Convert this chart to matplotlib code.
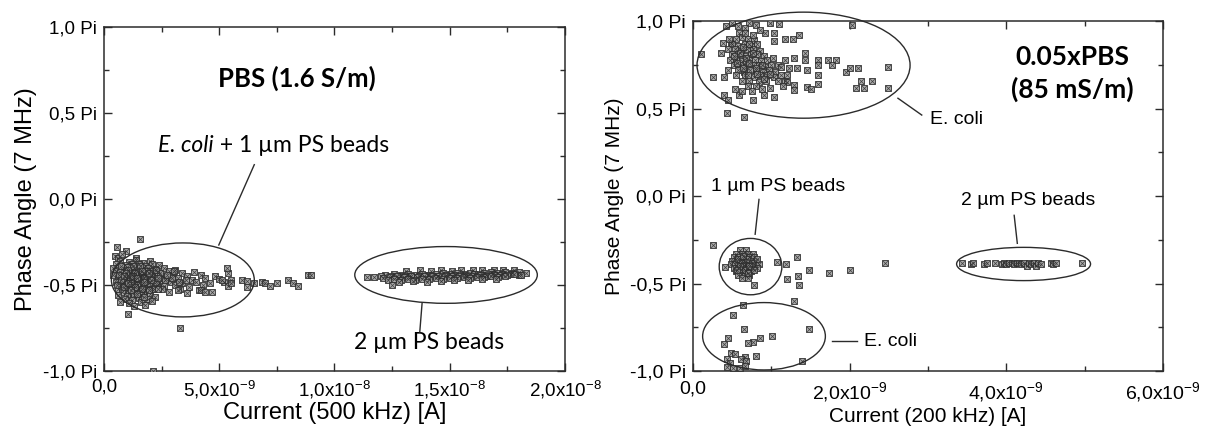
import numpy as np
import matplotlib
matplotlib.use("Agg")
import matplotlib.pyplot as plt
from matplotlib.patches import Ellipse
from matplotlib.ticker import FixedLocator, MultipleLocator

plt.rcParams['font.family'] = ['Liberation Sans', 'DejaVu Sans']
plt.rcParams['mathtext.fontset'] = 'custom'
plt.rcParams['mathtext.rm'] = 'Liberation Sans'

# ---- data: current in nA, phase angle in units of Pi ----
# left panel, PBS (1.6 S/m)
ecoli_pbs = [
    (1.58, -0.23), (0.57, -0.28), (0.97, -0.30), (0.49, -0.33), (0.61, -0.34), (1.40, -0.34), (0.80, -0.32),
    (0.7, -0.36), (1.1, -0.365), (1.4, -0.355), (1.7, -0.37), (2.0, -0.36),
    (0.5, -0.38), (0.9, -0.385), (1.2, -0.375), (1.5, -0.38), (1.8, -0.39), (2.1, -0.38), (2.4, -0.385),
    (0.4, -0.40), (0.8, -0.405), (1.0, -0.395), (1.3, -0.40), (1.6, -0.41), (1.9, -0.40), (2.2, -0.405),
    (2.6, -0.40), (3.1, -0.41),
    (0.5, -0.42), (0.7, -0.425), (1.1, -0.42), (1.4, -0.415), (1.7, -0.43), (2.0, -0.42), (2.3, -0.425),
    (2.8, -0.42), (3.4, -0.43), (3.9, -0.425),
    (0.4, -0.44), (0.9, -0.445), (1.2, -0.44), (1.5, -0.435), (1.8, -0.45), (2.1, -0.44), (2.5, -0.445),
    (3.0, -0.44), (3.6, -0.45), (4.2, -0.44), (4.8, -0.445),
    (0.6, -0.46), (1.0, -0.465), (1.3, -0.455), (1.6, -0.46), (1.9, -0.47), (2.2, -0.46), (2.7, -0.465),
    (3.2, -0.46), (3.8, -0.47), (4.4, -0.46), (5.0, -0.465), (5.5, -0.47),
    (0.5, -0.48), (0.8, -0.485), (1.1, -0.475), (1.4, -0.48), (1.7, -0.49), (2.0, -0.48), (2.4, -0.485),
    (2.9, -0.48), (3.4, -0.49), (4.0, -0.48), (4.6, -0.485), (5.2, -0.48),
    (0.7, -0.50), (1.0, -0.505), (1.3, -0.495), (1.6, -0.50), (1.9, -0.51), (2.3, -0.50), (2.6, -0.505),
    (3.1, -0.50), (3.7, -0.51), (4.3, -0.50), (5.4, -0.505),
    (0.6, -0.52), (0.9, -0.525), (1.2, -0.515), (1.5, -0.52), (1.8, -0.53), (2.1, -0.52), (2.5, -0.525),
    (3.3, -0.52), (4.1, -0.53),
    (0.8, -0.54), (1.1, -0.545), (1.4, -0.535), (1.7, -0.54), (2.0, -0.55), (2.8, -0.54), (3.6, -0.545),
    (0.6, -0.56), (1.0, -0.565), (1.3, -0.555), (1.6, -0.56), (2.2, -0.57),
    (0.9, -0.58), (1.2, -0.585), (1.5, -0.575), (1.9, -0.58),
    (0.7, -0.60), (1.1, -0.605), (1.6, -0.60), (2.1, -0.595),
    (1.3, -0.62), (1.8, -0.615),
    (1.25, -0.43), (1.55, -0.45), (1.35, -0.47), (1.65, -0.44), (1.45, -0.50), (1.75, -0.46),
    (1.15, -0.49), (1.85, -0.42), (1.05, -0.44), (2.05, -0.45), (1.95, -0.49), (1.25, -0.39),
    (1.55, -0.39), (0.95, -0.47), (2.25, -0.48), (2.45, -0.43), (2.15, -0.52), (0.85, -0.51),
    (0.75, -0.39), (1.05, -0.41), (1.35, -0.43), (1.65, -0.42), (1.95, -0.43), (2.25, -0.41),
    (0.65, -0.44), (0.95, -0.43), (1.25, -0.45), (1.45, -0.46), (1.75, -0.48), (2.05, -0.47),
    (2.35, -0.46), (0.75, -0.47), (1.05, -0.49), (1.35, -0.51), (1.65, -0.52), (1.95, -0.53),
    (2.35, -0.52), (0.55, -0.50), (0.85, -0.45), (1.15, -0.53), (1.45, -0.55), (1.75, -0.57),
    (2.65, -0.47), (2.95, -0.46), (3.25, -0.48), (3.55, -0.47), (2.75, -0.44), (3.05, -0.42),
    (3.2, -0.53), (4.2, -0.53), (4.4, -0.54), (4.7, -0.54), (5.1, -0.47), (5.4, -0.43), (5.5, -0.49),
    (1.04, -0.67), (3.31, -0.75), (2.11, -1.0),
    (5.35, -0.40), (6.0, -0.468), (6.2, -0.478), (6.2, -0.51), (6.5, -0.488), (6.85, -0.48),
    (7.0, -0.488), (7.2, -0.507), (7.5, -0.488), (8.0, -0.468), (8.2, -0.488), (8.4, -0.507),
    (8.85, -0.443), (9.0, -0.443),
]
beads2_pbs = [
    (13.1, -0.42), (13.7, -0.415), (14.2, -0.42), (14.6, -0.415), (15.1, -0.42), (15.5, -0.415),
    (16.0, -0.41), (16.4, -0.415), (16.9, -0.41), (17.3, -0.415), (17.8, -0.41),
    (12.2, -0.44), (12.6, -0.435), (12.9, -0.44), (13.2, -0.435), (13.5, -0.44), (13.8, -0.435),
    (14.1, -0.44), (14.4, -0.435), (14.7, -0.43), (15.0, -0.435), (15.3, -0.43), (15.6, -0.435),
    (15.9, -0.43), (16.2, -0.435), (16.5, -0.43), (16.8, -0.425), (17.1, -0.43), (17.4, -0.425),
    (17.7, -0.43), (18.0, -0.425), (18.3, -0.43),
    (12.0, -0.445), (12.45, -0.445), (12.85, -0.45), (13.25, -0.445), (13.65, -0.445), (14.05, -0.44),
    (14.45, -0.445), (14.85, -0.44), (15.25, -0.44), (15.65, -0.44), (16.05, -0.435), (16.45, -0.44),
    (16.85, -0.435), (17.25, -0.435), (17.65, -0.435), (18.0, -0.44),
    (11.4, -0.455), (11.7, -0.455), (12.1, -0.46), (12.4, -0.455), (12.7, -0.45), (13.0, -0.455),
    (13.3, -0.45), (13.6, -0.455), (13.9, -0.45), (14.2, -0.45), (14.5, -0.445), (14.8, -0.45),
    (15.1, -0.445), (15.4, -0.45), (15.7, -0.445), (16.0, -0.445), (16.3, -0.44), (16.6, -0.445),
    (16.9, -0.44), (17.2, -0.44), (17.5, -0.44), (17.8, -0.435), (18.1, -0.44),
    (12.3, -0.47), (12.6, -0.465), (12.9, -0.47), (13.2, -0.465), (13.5, -0.47), (13.8, -0.465),
    (14.1, -0.465), (14.4, -0.46), (14.7, -0.465), (15.0, -0.46), (15.3, -0.46), (15.6, -0.455),
    (15.9, -0.46), (16.2, -0.455), (16.5, -0.455), (16.8, -0.45), (17.1, -0.455), (17.4, -0.45),
    (12.8, -0.48), (13.4, -0.475), (14.0, -0.48), (14.6, -0.475), (15.2, -0.47), (15.8, -0.47),
    (16.4, -0.465), (17.0, -0.465),
    (12.5, -0.50),
]

# right panel, 0.05xPBS (85 mS/m)
ecoli_top = [
    (0.10, 0.81), (0.25, 0.68), (0.40, 0.68), (0.40, 0.58), (0.44, 0.475), (0.45, 0.55), (0.65, 0.45),
    (0.53, 0.61), (0.38, 0.875), (0.48, 0.875), (0.36, 0.82), (0.59, 0.93), (0.71, 0.99), (0.98, 0.99),
    (1.10, 0.985), (0.92, 0.93), (1.04, 0.93), (1.17, 0.90), (1.27, 0.90), (1.35, 0.92), (1.04, 0.885),
    (2.03, 0.98), (1.43, 0.82), (1.43, 0.78), (1.60, 0.78), (1.60, 0.75), (1.72, 0.78), (1.83, 0.78),
    (1.78, 0.75), (1.60, 0.69), (1.60, 0.64), (1.46, 0.72), (1.46, 0.625), (1.50, 0.61), (1.95, 0.71),
    (2.01, 0.73), (2.10, 0.73), (2.14, 0.66), (2.08, 0.615), (2.18, 0.615), (2.29, 0.66), (2.49, 0.735),
    (2.49, 0.62), (1.29, 0.79), (1.33, 0.73), (1.23, 0.73), (1.17, 0.78), (1.17, 0.66), (1.29, 0.635),
    (1.29, 0.605), (1.04, 0.565), (0.90, 0.58), (0.76, 0.55), (0.59, 0.58), (1.08, 0.75), (1.02, 0.79),
    (0.42, 0.97), (0.50, 0.99), (0.58, 0.97), (0.66, 0.96), (0.80, 0.98), (0.86, 0.95),
    (0.55, 0.90), (0.62, 0.91), (0.70, 0.90), (0.78, 0.89),
    (0.50, 0.87), (0.58, 0.86), (0.66, 0.87), (0.74, 0.86), (0.82, 0.87),
    (0.45, 0.84), (0.53, 0.84), (0.61, 0.83), (0.69, 0.84), (0.77, 0.84), (0.85, 0.83),
    (0.50, 0.81), (0.58, 0.81), (0.66, 0.80), (0.74, 0.81), (0.82, 0.81), (0.90, 0.80),
    (0.47, 0.78), (0.55, 0.78), (0.63, 0.77), (0.71, 0.78), (0.79, 0.78), (0.87, 0.77), (0.95, 0.78),
    (0.52, 0.75), (0.60, 0.75), (0.68, 0.74), (0.76, 0.75), (0.84, 0.75), (0.92, 0.74), (1.00, 0.75),
    (0.45, 0.72), (0.57, 0.72), (0.65, 0.71), (0.73, 0.72), (0.81, 0.72), (0.89, 0.71), (0.97, 0.72),
    (1.05, 0.71),
    (0.55, 0.69), (0.66, 0.69), (0.78, 0.68), (0.86, 0.69), (0.95, 0.69), (1.03, 0.68), (1.12, 0.69),
    (0.63, 0.66), (0.72, 0.66), (0.84, 0.65), (0.93, 0.66), (1.08, 0.66), (1.20, 0.65),
    (0.70, 0.63), (0.80, 0.63), (0.98, 0.62), (1.15, 0.63),
    (0.62, 0.60), (0.75, 0.60), (0.88, 0.61),
    (0.52, 0.80), (0.60, 0.82), (0.68, 0.79), (0.76, 0.82), (0.64, 0.85), (0.72, 0.87), (0.56, 0.76),
    (0.64, 0.73), (0.72, 0.76), (0.80, 0.73), (0.88, 0.75), (0.70, 0.69), (0.82, 0.70), (0.90, 0.67),
    (0.98, 0.70), (0.46, 0.90), (0.66, 0.93), (0.76, 0.92), (1.12, 0.74), (1.20, 0.69),
]
beads1 = [
    (0.26, -0.278), (1.19, -0.388), (1.20, -0.473), (1.33, -0.347), (1.34, -0.458), (1.35, -0.508),
    (1.48, -0.420), (1.74, -0.439), (2.01, -0.420), (2.45, -0.384), (1.29, -0.597), (0.78, -0.508),
    (0.41, -0.407), (1.07, -0.379),
    (0.60, -0.31), (0.68, -0.31),
    (0.55, -0.33), (0.63, -0.33), (0.70, -0.33), (0.76, -0.33),
    (0.52, -0.35), (0.58, -0.35), (0.65, -0.35), (0.72, -0.35), (0.78, -0.35),
    (0.50, -0.37), (0.56, -0.37), (0.62, -0.37), (0.68, -0.37), (0.74, -0.37), (0.80, -0.37),
    (0.48, -0.39), (0.54, -0.39), (0.60, -0.39), (0.66, -0.39), (0.72, -0.39), (0.78, -0.39), (0.84, -0.39),
    (0.52, -0.41), (0.58, -0.41), (0.64, -0.41), (0.70, -0.41), (0.76, -0.41), (0.82, -0.41),
    (0.55, -0.43), (0.62, -0.43), (0.68, -0.43), (0.74, -0.43),
    (0.58, -0.45), (0.66, -0.45), (0.72, -0.45),
    (0.63, -0.47), (0.70, -0.47),
    (0.57, -0.36), (0.63, -0.38), (0.69, -0.36), (0.75, -0.38), (0.60, -0.40), (0.66, -0.42),
    (0.72, -0.40), (0.78, -0.42), (0.64, -0.34), (0.70, -0.44), (0.56, -0.42), (0.82, -0.36),
]
ecoli_bottom = [
    (0.64, -0.625), (0.51, -0.677), (0.65, -0.762), (1.01, -0.80), (1.48, -0.757), (0.85, -0.81),
    (0.77, -0.835), (0.70, -0.842), (0.45, -0.81), (0.40, -0.848), (0.49, -0.895), (0.54, -0.905),
    (0.81, -0.914), (0.66, -0.92), (0.61, -0.933), (0.67, -0.943), (0.43, -0.933), (0.47, -0.952),
    (1.39, -0.943), (0.44, -0.975), (0.51, -0.981), (0.60, -0.981), (0.66, -0.97),
]
beads2 = [
    (3.44, -0.385), (3.55, -0.39), (3.58, -0.385), (3.72, -0.39), (3.75, -0.385), (3.85, -0.385),
    (3.95, -0.39), (3.97, -0.38), (4.00, -0.39), (4.03, -0.385), (4.07, -0.38), (4.10, -0.39),
    (4.13, -0.385), (4.16, -0.38), (4.19, -0.39), (4.23, -0.385), (4.26, -0.40), (4.29, -0.385),
    (4.32, -0.39), (4.35, -0.385), (4.38, -0.40), (4.41, -0.385), (4.44, -0.39), (4.57, -0.385),
    (4.60, -0.39), (4.63, -0.385), (4.96, -0.385),
]

pi_ticks = [-1.0, -0.5, 0.0, 0.5, 1.0]
pi_labels = ['-1,0 Pi', '-0,5 Pi', '0,0 Pi', '0,5 Pi', '1,0 Pi']
left_xticks = [0, 5, 10, 15, 20]
left_xlabels = ['0,0', r'5,0x10$^{-9}$', r'1,0x10$^{-8}$', r'1,5x10$^{-8}$', r'2,0x10$^{-8}$']
right_xticks = [0, 2, 4, 6]
right_xlabels = ['0,0', r'2,0x10$^{-9}$', r'4,0x10$^{-9}$', r'6,0x10$^{-9}$']

LINE = '#2b2b2b'
CALIBRI = ['Lato', 'DejaVu Sans']


def scatter(ax, pts):
    x = [p[0] for p in pts]
    y = [p[1] for p in pts]
    ax.scatter(x, y, s=22, marker='s', facecolor='#9c9c9c', edgecolor='#2e2e2e',
               linewidths=0.7, alpha=0.85, zorder=3)
    ax.scatter(x, y, s=13, marker='x', color='#2e2e2e', linewidths=0.5, alpha=0.85, zorder=3)


def style_axes(ax, xmax, xticks, xlabels, xminor, tick_fs, label_fs, xlabel, xpad):
    ax.set_xlim(0, xmax)
    ax.set_ylim(-1, 1)
    ax.xaxis.set_major_locator(FixedLocator(xticks))
    ax.set_xticklabels(xlabels)
    ax.xaxis.set_minor_locator(MultipleLocator(xminor))
    ax.yaxis.set_major_locator(FixedLocator(pi_ticks))
    ax.set_yticklabels(pi_labels)
    ax.yaxis.set_minor_locator(MultipleLocator(0.25))
    ax.tick_params(which='both', direction='in', top=True, right=True, color=LINE,
                   labelsize=tick_fs, width=1.0)
    ax.tick_params(which='major', length=6)
    ax.tick_params(which='minor', length=3.5)
    ax.tick_params(axis='x', which='major', pad=xpad)
    ax.tick_params(axis='y', which='major', pad=5)
    for s in ax.spines.values():
        s.set_linewidth(1.1)
        s.set_color(LINE)
    ax.set_xlabel(xlabel, fontsize=label_fs, labelpad=1)
    ax.set_ylabel('Phase Angle (7 MHz)', fontsize=label_fs, labelpad=4)


def ellipse(ax, cx, cy, w, h):
    ax.add_patch(Ellipse((cx, cy), w, h, fill=False, edgecolor=LINE, lw=1.0,
                         clip_on=False, zorder=4))


def leader(ax, x0, y0, x1, y1):
    ax.plot([x0, x1], [y0, y1], color=LINE, lw=1.0, zorder=4, clip_on=False)


fig = plt.figure(figsize=(12.15, 4.3), dpi=100)

# left panel
ax1 = fig.add_axes([0.0856, 0.137, 0.3794, 0.8])
scatter(ax1, ecoli_pbs)
scatter(ax1, beads2_pbs)
style_axes(ax1, 20, left_xticks, left_xlabels, 2.5, 13.5, 17, 'Current (500 kHz) [A]', 5)
ellipse(ax1, 3.42, -0.47, 6.2, 0.43)
ellipse(ax1, 14.84, -0.441, 7.92, 0.33)
leader(ax1, 4.98, -0.267, 6.52, 0.20)
leader(ax1, 13.8, -0.606, 13.7, -0.773)
ax1.text(8.35, 0.70, 'PBS (1.6 S/m)', family=CALIBRI, weight='bold', fontsize=18.5,
         ha='center', va='center')
t1 = ax1.text(2.35, 0.31, 'E. coli', family=CALIBRI, style='italic', fontsize=16.5,
              ha='left', va='center')
ax1.annotate(' + 1 \u00b5m PS beads', xy=(1, 0), xycoords=t1, family=CALIBRI, fontsize=16.5,
             ha='left', va='bottom')
ax1.text(14.1, -0.833, '2 \u00b5m PS beads', family=CALIBRI, fontsize=16.5, ha='center', va='center')

# right panel
ax2 = fig.add_axes([0.5704, 0.137, 0.3868, 0.814])
scatter(ax2, ecoli_top)
scatter(ax2, beads1)
scatter(ax2, ecoli_bottom)
scatter(ax2, beads2)
style_axes(ax2, 6, right_xticks, right_xlabels, 1, 14, 15, 'Current (200 kHz) [A]', 7)
ellipse(ax2, 1.411, 0.748, 2.72, 0.606)
ellipse(ax2, 0.734, -0.403, 0.80, 0.322)
ellipse(ax2, 0.906, -0.801, 1.567, 0.385)
ellipse(ax2, 4.22, -0.388, 1.71, 0.19)
leader(ax2, 2.616, 0.559, 2.92, 0.463)
leader(ax2, 0.842, -0.019, 0.793, -0.218)
leader(ax2, 4.10, -0.11, 4.14, -0.27)
leader(ax2, 1.778, -0.828, 2.094, -0.828)
ax2.text(3.02, 0.44, 'E. coli', fontsize=14, ha='left', va='center')
ax2.text(1.08, 0.057, '1 \u00b5m PS beads', fontsize=14, ha='center', va='center')
ax2.text(4.28, -0.025, '2 \u00b5m PS beads', fontsize=14, ha='center', va='center')
ax2.text(2.18, -0.833, 'E. coli', fontsize=14, ha='left', va='center')
ax2.text(4.84, 0.70, '0.05xPBS\n(85 mS/m)', family=CALIBRI, weight='bold', fontsize=19,
         ha='center', va='center', linespacing=1.35)

fig.savefig('out.png', dpi=100)
